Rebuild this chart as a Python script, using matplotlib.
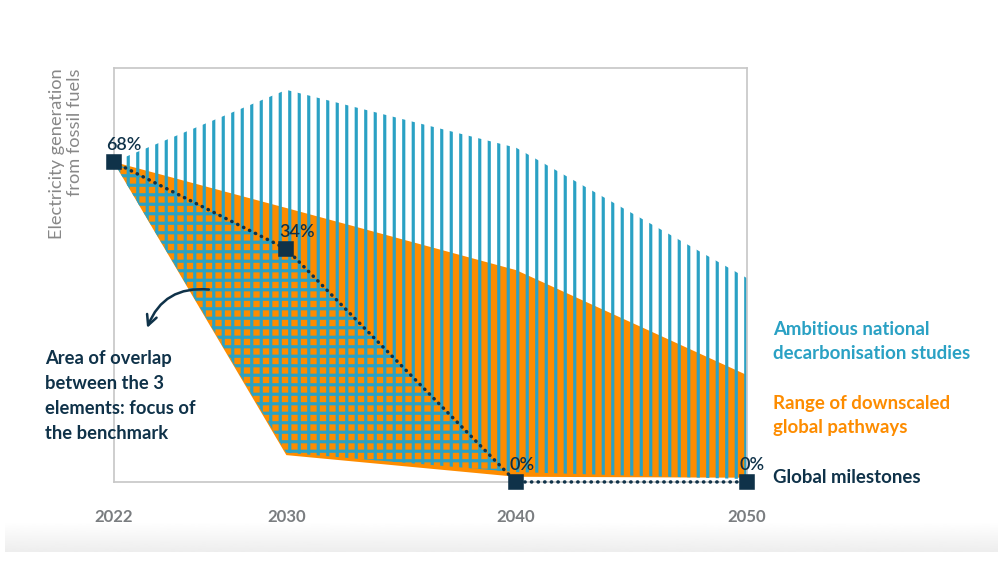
import numpy as np
import matplotlib.pyplot as plt
from matplotlib.patches import FancyArrowPatch

# schematic values
years = [2022, 2030, 2040, 2050]

milestone = [68, 49.5, 0, 0]
milestone_labels = ["68%", "34%", "0%", "0%"]

orange_high = [68, 58.2, 45.0, 22.7]
orange_low = [68, 5.7, 1.1, 0.9]

blue_high = [68, 83.3, 71.0, 43.3]
blue_low = [68, 6.2, 2.1, 0.6]

tick_labels = ["2022", "2030", "2040", "2050"]

BLUE = "#2aa1c4"
ORANGE = "#fd8c00"
NAVY = "#0f3249"
GREY = "#888888"

plt.rcParams['font.family'] = ['Lato', 'DejaVu Sans']
plt.rcParams['hatch.linewidth'] = 2.0
plt.rcParams['hatch.color'] = BLUE

DPI = 114
fig = plt.figure(figsize=(1000 / DPI, 563.3 / DPI), dpi=DPI)

def fx(x, y):
    # figure pixel -> figure fraction
    return (x / 1000, 1 - y / 563)

ax = fig.add_axes([113.5 / 1000, 1 - 482 / 563, (747 - 113.5) / 1000, (482 - 68) / 563])

# the year axis in the original is not evenly spaced
tick_px = [114, 287, 517, 748]
ax.set_xscale('function', functions=(lambda x: np.interp(x, years, tick_px),
                                     lambda p: np.interp(p, tick_px, years)))
ax.set_xlim(2022, 2050)
ax.set_ylim(0, 88)

# range of downscaled global pathways
ax.fill_between(years, orange_low, orange_high, facecolor=ORANGE, linewidth=0, zorder=1)
# ambitious national studies
ax.fill_between(years, blue_low, blue_high, facecolor='none', edgecolor=BLUE,
                hatch='||', linewidth=0, zorder=2)
# overlap of the three elements
ms = np.array(milestone)
bl = np.array(blue_low)
ax.fill_between(years, bl, ms, where=ms >= bl, interpolate=True, facecolor='none',
                edgecolor=BLUE, hatch='--', linewidth=0, zorder=3)

# global milestones
ax.plot(years, milestone, color=NAVY, lw=2.2, linestyle=(0, (0.1, 1.8)),
        dash_capstyle='round', zorder=4, clip_on=False)
ax.plot(years, milestone, linestyle='none', marker='s', ms=8.3, color=NAVY,
        zorder=5, clip_on=False)
for x, y, lab in zip(years, milestone, milestone_labels):
    ax.annotate(lab, (x, y), xytext=(-7, 9), textcoords='offset pixels',
                ha='left', va='bottom', fontsize=11.4, fontweight='semibold',
                color=NAVY, zorder=6)

for s in ax.spines.values():
    s.set_color('#c8c8c8')
    s.set_linewidth(1.1)
ax.set_yticks([])
ax.set_xticks(years)
ax.set_xticklabels(tick_labels, fontsize=10.6, fontweight='bold', color='#7a7d80')
ax.tick_params(axis='x', length=0, pad=17)
ax.minorticks_off()

# y label
fig.text(*fx(66, 68), "Electricity generation\nfrom fossil fuels", rotation=90,
         ha='center', va='top', multialignment='right', fontsize=11.5,
         color=GREY, linespacing=1.1)

# legend-like labels on the right
fig.text(*fx(773, 341), "Ambitious national\ndecarbonisation studies", ha='left',
         va='center', fontsize=11.8, fontweight='bold', color=BLUE, linespacing=1.52)
fig.text(*fx(773, 415), "Range of downscaled\nglobal pathways", ha='left',
         va='center', fontsize=11.8, fontweight='bold', color=ORANGE, linespacing=1.52)
fig.text(*fx(773, 477), "Global milestones", ha='left', va='center', fontsize=11.8,
         fontweight='bold', color=NAVY)

# annotation on the left
fig.text(*fx(45, 396), "Area of overlap\nbetween the 3\nelements: focus of\nthe benchmark",
         ha='left', va='center', fontsize=11.6, fontweight='bold', color=NAVY,
         linespacing=1.56)
arrow = FancyArrowPatch(fx(212, 290), fx(146, 331), transform=fig.transFigure,
                        connectionstyle='arc3,rad=0.4', arrowstyle='->',
                        mutation_scale=16, lw=1.6, color=NAVY)
fig.add_artist(arrow)

# soft grey band at the bottom of the page
bg = fig.add_axes([5 / 1000, 1 - 552 / 563, 992 / 1000, 29 / 563], zorder=-1)
grad = np.linspace(1.0, 0.93, 50).reshape(-1, 1)
bg.imshow(grad, aspect='auto', cmap='gray', vmin=0, vmax=1)
bg.axis('off')

fig.savefig("out.png", dpi=DPI)
